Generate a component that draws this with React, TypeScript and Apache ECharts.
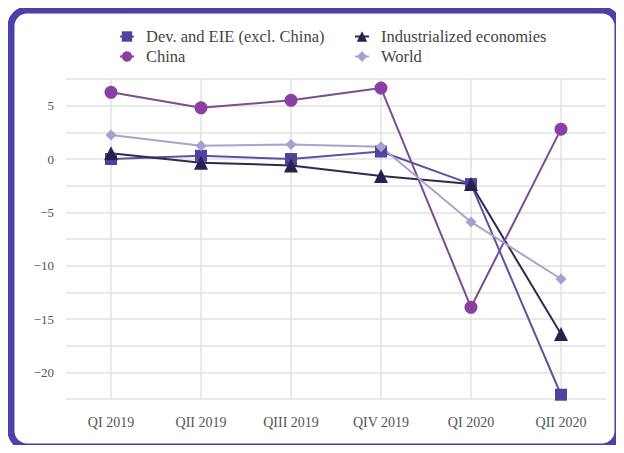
import React, { useEffect, useRef } from "react";
import * as echarts from "echarts";

const categories = ["QI 2019", "QII 2019", "QIII 2019", "QIV 2019", "QI 2020", "QII 2020"];
const devEIE = [0.0, 0.3, 0.0, 0.7, -2.35, -22.1];
const industrialized = [0.55, -0.35, -0.6, -1.6, -2.35, -16.4];
const china = [6.25, 4.8, 5.5, 6.65, -13.9, 2.8];
const world = [2.25, 1.25, 1.35, 1.15, -5.9, -11.25];

const seriesNames = ["Dev. and EIE (excl. China)", "Industrialized economies", "China", "World"];

const FONT = "Liberation Serif";

export default function App() {
  const ref = useRef<HTMLDivElement>(null);
  useEffect(() => {
    if (!ref.current) return;
    const chart = echarts.init(ref.current, null, { renderer: "svg" });
    const legendText = {
      fontFamily: FONT,
      fontSize: 16.5,
      lineHeight: 19,
      color: "#444",
      padding: [0, 0, 0, 7],
    };
    const legendPos = [
      { left: 119, top: 27 },
      { left: 354, top: 27 },
      { left: 119, top: 47 },
      { left: 354, top: 47 },
    ];
    chart.setOption({
      animation: false,
      backgroundColor: "#fff",
      textStyle: { fontFamily: FONT },
      graphic: [
        {
          type: "rect",
          shape: { x: 11, y: 10, width: 607, height: 437, r: 16 },
          style: { fill: "none", stroke: "#4a40a8", lineWidth: 7 },
          silent: true,
          z: 100,
        },
      ],
      legend: seriesNames.map((n, i) => ({
        data: [n],
        left: legendPos[i].left,
        top: legendPos[i].top,
        padding: 0,
        itemWidth: 14,
        itemHeight: 13,
        textStyle: legendText,
      })),
      grid: { left: 66, right: 18, top: 79, bottom: 54, containLabel: false },
      xAxis: {
        type: "category",
        data: categories,
        boundaryGap: true,
        axisLine: { show: false },
        axisTick: { show: true, alignWithLabel: true, length: 8, lineStyle: { color: "#e2e2e2" } },
        axisLabel: { fontFamily: FONT, fontSize: 14, color: "#555", margin: 16 },
        splitLine: { show: false },
      },
      yAxis: {
        type: "value",
        min: -22.5,
        max: 7.5,
        interval: 2.5,
        axisLine: { show: false },
        axisTick: { show: false },
        axisLabel: {
          fontFamily: FONT,
          fontSize: 13,
          color: "#555",
          margin: 12,
          formatter: (v: number) => (Math.abs(v % 5) < 1e-9 ? (v < 0 ? "\u2212" + Math.abs(v) : String(v)) : ""),
        },
        splitLine: { lineStyle: { color: "#e2e2e2", width: 1.5 } },
      },
      series: [
        {
          name: seriesNames[0],
          type: "line",
          data: devEIE,
          symbol: "rect",
          symbolSize: 12,
          itemStyle: { color: "#4e44a0" },
          lineStyle: { color: "#5b52a3", width: 2 },
          markLine: {
            silent: true,
            symbol: "none",
            label: { show: false },
            lineStyle: { color: "#e2e2e2", width: 1.5, type: "solid" },
            data: categories.map((c) => ({ xAxis: c })),
            z: 0,
          },
        },
        {
          name: seriesNames[1],
          type: "line",
          data: industrialized,
          symbol: "triangle",
          symbolSize: 14,
          itemStyle: { color: "#28214f" },
          lineStyle: { color: "#2e2a4c", width: 2 },
        },
        {
          name: seriesNames[2],
          type: "line",
          data: china,
          symbol: "circle",
          symbolSize: 13,
          itemStyle: { color: "#8a3fa3" },
          lineStyle: { color: "#7b4d92", width: 2 },
        },
        {
          name: seriesNames[3],
          type: "line",
          data: world,
          symbol: "diamond",
          symbolSize: 11,
          itemStyle: { color: "#a7a0cc" },
          lineStyle: { color: "#aaa4c8", width: 2 },
        },
      ],
    });
    return () => chart.dispose();
  }, []);
  return <div ref={ref} style={{ width: 624, height: 453, margin: -8 }} />;
}
